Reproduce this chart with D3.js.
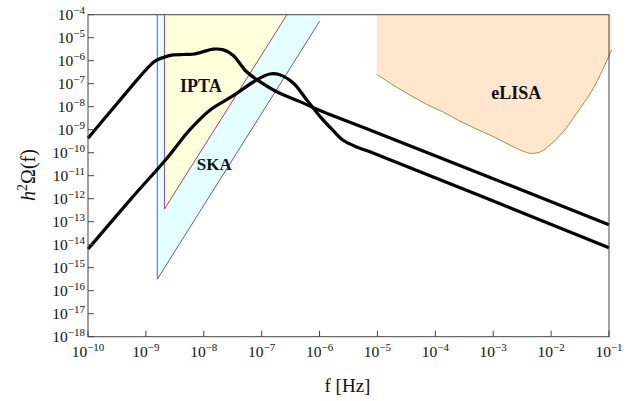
<!DOCTYPE html>
<html>
<head>
<meta charset="utf-8">
<script src="https://cdn.jsdelivr.net/npm/d3@7"></script>
<style>
  body { margin: 0; background: #fff; }
  text { font-family: "Liberation Serif", "Times New Roman", serif; fill: #111; }
</style>
</head>
<body>
<svg id="chart" width="636" height="401"></svg>
<script>
// tick exponents (log10)
var xTickExps = [-10, -9, -8, -7, -6, -5, -4, -3, -2, -1];
var yTickExps = [-4, -5, -6, -7, -8, -9, -10, -11, -12, -13, -14, -15, -16, -17, -18];

// sensitivity regions, [log10 f, log10 h2Omega]
var skaRegion = [[-8.803, -4], [-8.803, -15.5], [-6, -4.29], [-6, -4]];
var iptaRegion = [[-8.68, -4], [-8.68, -12.45], [-6.563, -4]];
var elisaCurve = [[-5.013, -6.59], [-4.73, -7.06], [-4.44, -7.49], [-4.15, -7.90], [-3.86, -8.24],
    [-3.58, -8.62], [-3.29, -8.97], [-3.00, -9.30], [-2.71, -9.67], [-2.48, -9.94], [-2.34, -10.03],
    [-2.19, -9.97], [-2.02, -9.67], [-1.79, -9.09], [-1.56, -8.29], [-1.27, -7.2], [-0.955, -5.53]];

// spectra
var spectrumA = [[-10, -9.37], [-9.5, -7.87], [-9.0, -6.40], [-8.85, -6.03], [-8.70, -5.86],
    [-8.53, -5.75], [-8.35, -5.73], [-8.2, -5.72], [-8.05, -5.64], [-7.84, -5.50], [-7.66, -5.53],
    [-7.5, -5.75], [-7.26, -6.48], [-7.03, -6.91], [-6.74, -7.35], [-6.34, -7.78], [-5.94, -8.22],
    [-5.13, -9.01], [-1, -13.13]];
var spectrumB = [[-10, -14.19], [-9.275, -12.06], [-8.64, -10.25], [-8.24, -9.0], [-7.89, -8.14],
    [-7.49, -7.52], [-7.09, -6.84], [-6.86, -6.58], [-6.7, -6.6], [-6.45, -6.98], [-6.22, -7.71],
    [-5.99, -8.43], [-5.76, -9.05], [-5.6, -9.45], [-5.36, -9.75], [-5.13, -9.96], [-1, -14.13]];

var svg = d3.select("#chart"),
    margin = { top: 14.7, right: 27, bottom: 64.3, left: 88 },
    width = +svg.attr("width") - margin.left - margin.right,
    height = +svg.attr("height") - margin.top - margin.bottom,
    g = svg.append("g").attr("transform", "translate(" + margin.left + "," + margin.top + ")");

var x = d3.scaleLinear().domain([-10, -1]).range([0, width]);
var y = d3.scaleLinear().domain([-18, -4]).range([height, 0]);

var line = d3.line()
    .x(function (d) { return x(d[0]); })
    .y(function (d) { return y(d[1]); });

var smooth = d3.line()
    .x(function (d) { return x(d[0]); })
    .y(function (d) { return y(d[1]); })
    .curve(d3.curveCatmullRom);

// SKA
g.append("path")
    .attr("d", line(skaRegion) + "Z")
    .attr("fill", "#e4ffff");
g.append("path")
    .attr("d", line(skaRegion.slice(0, 3)))
    .attr("fill", "none")
    .attr("stroke", "#5a5ab4")
    .attr("stroke-width", 1);

// IPTA
g.append("path")
    .attr("d", line(iptaRegion) + "Z")
    .attr("fill", "#ffffdc");
g.append("path")
    .attr("d", line(iptaRegion))
    .attr("fill", "none")
    .attr("stroke", "#a8407a")
    .attr("stroke-width", 1);

// eLISA: straight sides up to the top, smooth lower edge
var first = elisaCurve[0], last = elisaCurve[elisaCurve.length - 1];
g.append("path")
    .attr("d", "M" + x(first[0]) + "," + y(-4) + "L" + smooth(elisaCurve).slice(1) +
        "L" + x(last[0]) + "," + y(-4) + "Z")
    .attr("fill", "#ffe6cc");
g.append("path")
    .attr("d", smooth(elisaCurve))
    .attr("fill", "none")
    .attr("stroke", "#a58c40")
    .attr("stroke-width", 1);

// region labels
g.append("text").attr("x", x(-8.05)).attr("y", y(-7.34)).attr("text-anchor", "middle")
    .attr("font-size", 18).attr("font-weight", "bold").text("IPTA");
g.append("text").attr("x", x(-7.82)).attr("y", y(-10.77)).attr("text-anchor", "middle")
    .attr("font-size", 17).attr("font-weight", "bold").text("SKA");
g.append("text").attr("x", x(-2.6)).attr("y", y(-7.66)).attr("text-anchor", "middle")
    .attr("font-size", 18).attr("font-weight", "bold").text("eLISA");

// spectra
[spectrumA, spectrumB].forEach(function (s) {
    g.append("path")
        .attr("d", smooth(s))
        .attr("fill", "none")
        .attr("stroke", "#000")
        .attr("stroke-width", 3.2)
        .attr("stroke-linejoin", "round");
});

// frame
g.append("rect")
    .attr("width", width)
    .attr("height", height)
    .attr("fill", "none")
    .attr("stroke", "#444")
    .attr("stroke-width", 1);

// x ticks and labels
var xt = g.append("g").selectAll("g")
    .data(xTickExps)
    .enter().append("g")
    .attr("transform", function (d) { return "translate(" + x(d) + "," + height + ")"; });
xt.append("line").attr("y2", -6).attr("stroke", "#444");
var xl = xt.append("text").attr("y", 20).attr("text-anchor", "middle").attr("font-size", 15.5);
xl.append("tspan").text("10");
xl.append("tspan").attr("dy", -6).attr("font-size", 11).text(function (d) { return "\u2212" + (-d); });

// y ticks and labels
var yt = g.append("g").selectAll("g")
    .data(yTickExps)
    .enter().append("g")
    .attr("transform", function (d) { return "translate(0," + y(d) + ")"; });
yt.append("line").attr("x2", 6).attr("stroke", "#444");
var yl = yt.append("text").attr("x", -3).attr("y", 5).attr("text-anchor", "end").attr("font-size", 15.5);
yl.append("tspan").text("10");
yl.append("tspan").attr("dy", -6).attr("font-size", 11).text(function (d) { return "\u2212" + (-d); });

// axis titles
svg.append("text")
    .attr("x", 347.5)
    .attr("y", 391.5)
    .attr("text-anchor", "middle")
    .attr("font-size", 19)
    .text("f [Hz]");

var yTitle = svg.append("text")
    .attr("transform", "translate(35,175) rotate(-90)")
    .attr("text-anchor", "middle")
    .attr("font-size", 20);
yTitle.append("tspan").attr("font-style", "italic").text("h");
yTitle.append("tspan").attr("dy", -8).attr("font-size", 14).text("2");
yTitle.append("tspan").attr("dy", 8).text("\u03A9(f)");
</script>
</body>
</html>
